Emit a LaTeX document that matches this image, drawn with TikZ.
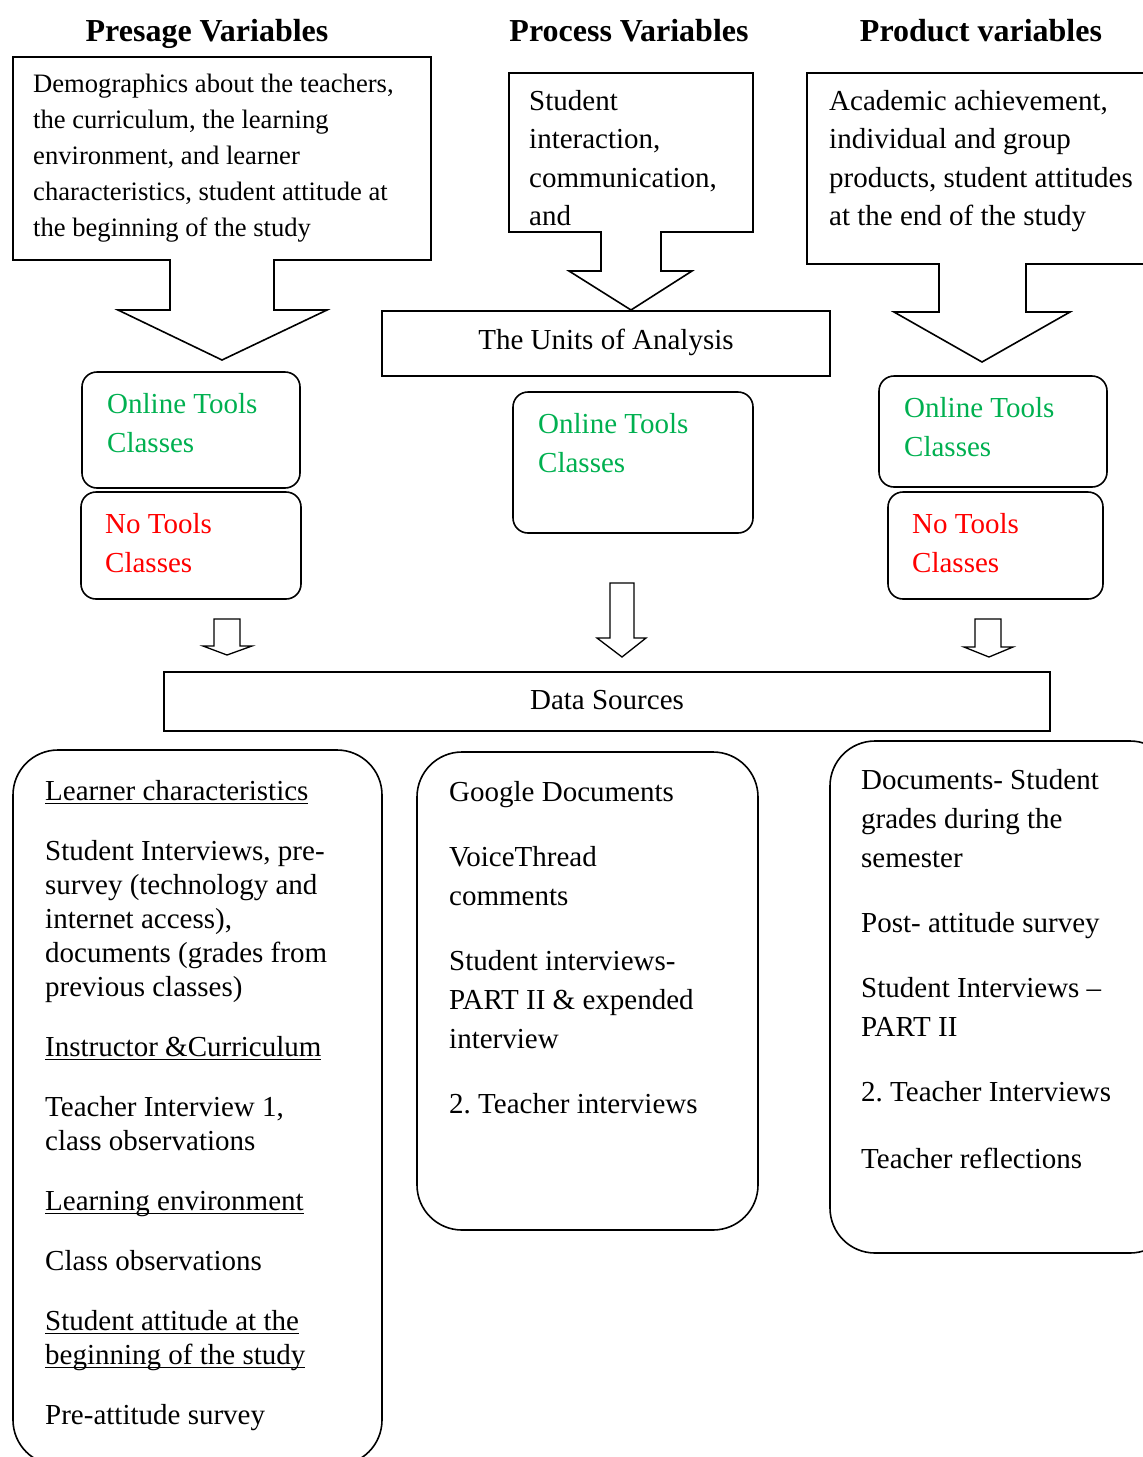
\documentclass[tikz,border=0pt]{standalone}
\usepackage{fontspec}
\setmainfont{Liberation Serif}
\frenchspacing
\definecolor{tgreen}{RGB}{0,176,80}
\definecolor{tred}{RGB}{255,0,0}
% underline drawn at a fixed distance below the baseline
\newcommand\ulin[1]{\setbox0\hbox{#1}\rlap{\rule[-4pt]{\wd0}{1.3pt}}\box0}
\tikzset{
  outline/.style={line width=1.6pt, line join=miter},
  thinarrow/.style={line width=1.3pt, line join=miter},
  smallbox/.style={line width=1.6pt, rounded corners=15pt},
  bigbox/.style={line width=1.6pt, rounded corners=45pt},
  txt/.style={anchor=north west, align=left, inner sep=0pt},
  title/.style={anchor=base, inner sep=0pt, font=\fontsize{32}{36}\selectfont\bfseries},
  small/.style={font=\fontsize{26.6}{36}\selectfont},
  body/.style={font=\fontsize{29}{38.5}\selectfont},
  tight/.style={font=\fontsize{29}{34}\selectfont},
  loose/.style={font=\fontsize{29}{39}\selectfont},
}
\begin{document}
\begin{tikzpicture}[x=1pt,y=-1pt]
\useasboundingbox (0,0) rectangle (1143,1457);
\clip (0,0) rectangle (1143,1457);

% column titles
\node[title] (tpre)  at (207,41) {Presage Variables};
\node[title] (tproc) at (629,41) {Process Variables};
\node[title] (tprod) at (981,41) {Product variables};

% callouts with downward block arrows
\draw[outline] (13,57) -- (431,57) -- (431,260) -- (274,260) -- (274,310) -- (327,310)
  -- (222,360) -- (118,310) -- (170,310) -- (170,260) -- (13,260) -- cycle;
\draw[outline] (509,73) -- (753,73) -- (753,232) -- (661,232) -- (661,271) -- (692,271)
  -- (631,310) -- (569,271) -- (601,271) -- (601,232) -- (509,232) -- cycle;
\draw[outline] (807,73) -- (1160,73) -- (1160,264) -- (1026,264) -- (1026,312) -- (1070,312)
  -- (982,362) -- (894,312) -- (939,312) -- (939,264) -- (807,264) -- cycle;

\node[txt,small] (cpre) at (33,74) {Demographics about the teachers,\\the curriculum, the learning\\environment, and learner\\characteristics, student attitude at\\the beginning of the study};
\node[txt,body] (cproc) at (529,90) {Student\\interaction,\\communication,\\and};
\node[txt,body] (cprod) at (829,90) {Academic achievement,\\individual and group\\products, student attitudes\\at the end of the study};

% units of analysis
\draw[outline] (382,311) rectangle (830,376);
\node[anchor=base, inner sep=0pt, body] (units) at (606,349) {The Units of Analysis};

% class groups
\draw[smallbox] (82,372) rectangle (300,488);
\draw[smallbox] (81,492) rectangle (301,599);
\draw[smallbox] (513,392) rectangle (753,533);
\draw[smallbox] (879,376) rectangle (1107,487);
\draw[smallbox] (888,492) rectangle (1103,599);
\node[txt,loose,text=tgreen] (onl1) at (107,393) {Online Tools\\Classes};
\node[txt,loose,text=tred]   (no1)  at (105,513) {No Tools\\Classes};
\node[txt,loose,text=tgreen] (onl2) at (538,413) {Online Tools\\Classes};
\node[txt,loose,text=tgreen] (onl3) at (904,397) {Online Tools\\Classes};
\node[txt,loose,text=tred]   (no3)  at (912,513) {No Tools\\Classes};

% small block arrows
\draw[thinarrow] (214,619) -- (240,619) -- (240,646) -- (252,646) -- (227,655) -- (203,646) -- (214,646) -- cycle;
\draw[thinarrow] (610,583) -- (634,583) -- (634,638) -- (646,638) -- (622,657) -- (597,638) -- (610,638) -- cycle;
\draw[thinarrow] (975,619) -- (1001,619) -- (1001,647) -- (1013,647) -- (989,657) -- (964,647) -- (975,647) -- cycle;

% data sources
\draw[outline] (164,672) rectangle (1050,731);
\node[anchor=base, inner sep=0pt, body] (data) at (607,709) {Data Sources};

% source lists
\draw[bigbox] (13,750) rectangle (382,1465);
\draw[bigbox] (417,752) rectangle (758,1230);
\draw[bigbox] (830,741) rectangle (1175,1253);

\node[txt,tight] (src1) at (45,780) {\ulin{Learner characteristics}\\[26pt]
Student Interviews, pre-\\survey (technology and\\internet access),\\documents (grades from\\previous classes)\\[26pt]
\ulin{Instructor \&Curriculum}\\[26pt]
Teacher Interview 1,\\class observations\\[26pt]
\ulin{Learning environment}\\[26pt]
Class observations\\[26pt]
\ulin{Student attitude at the}\\\ulin{beginning of the study}\\[26pt]
Pre-attitude survey};

\node[txt,loose] (src2) at (449,781) {Google Documents\\[26pt]
VoiceThread\\comments\\[26pt]
Student interviews-\\PART II \& expended\\interview\\[26pt]
2. Teacher interviews};

\node[txt,loose] (src3) at (861,769) {Documents- Student\\grades during the\\semester\\[26pt]
Post- attitude survey\\[26pt]
Student Interviews –\\PART II\\[26pt]
2. Teacher Interviews\\[28pt]
Teacher reflections};
\end{tikzpicture}
\end{document}
